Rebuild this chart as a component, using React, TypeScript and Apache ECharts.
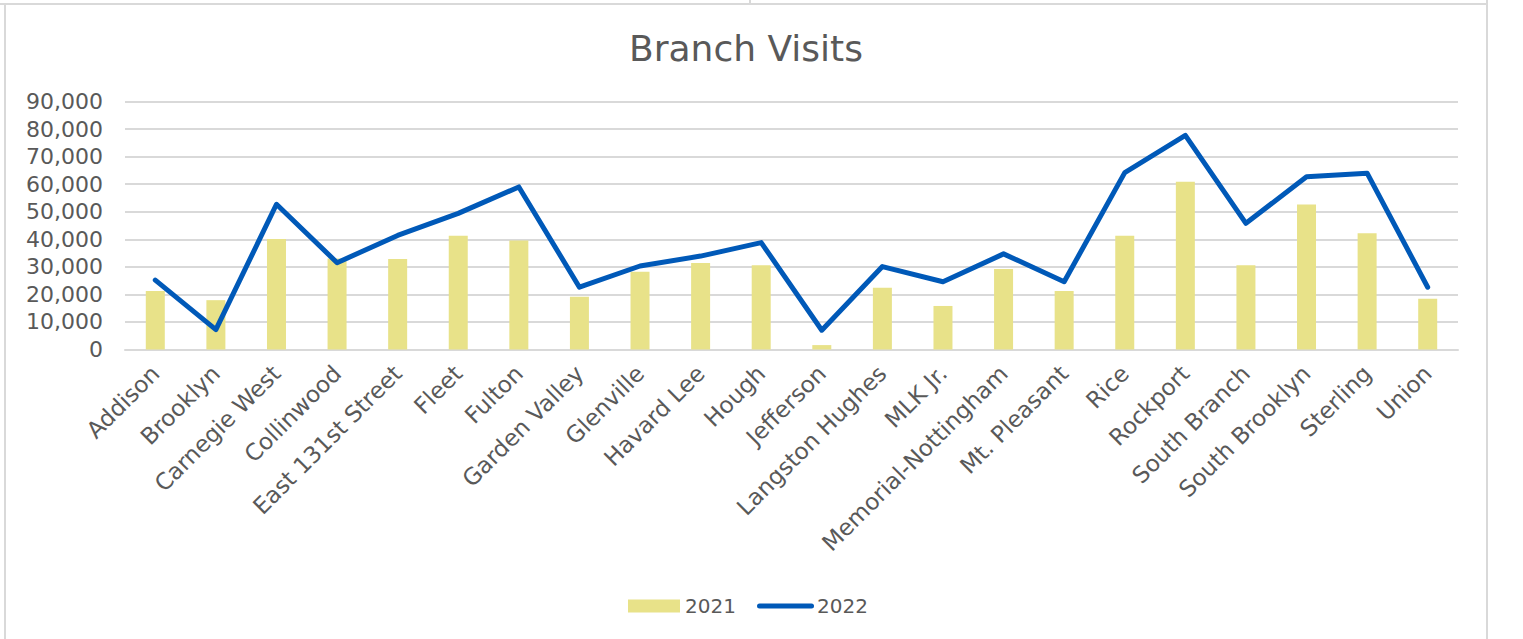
import React, { useEffect, useRef } from "react";
import * as echarts from "echarts";

const categories = [
  "Addison", "Brooklyn", "Carnegie West", "Collinwood", "East 131st Street", "Fleet",
  "Fulton", "Garden Valley", "Glenville", "Havard Lee", "Hough", "Jefferson",
  "Langston Hughes", "MLK Jr.", "Memorial-Nottingham", "Mt. Pleasant", "Rice",
  "Rockport", "South Branch", "South Brooklyn", "Sterling", "Union",
];

const visits2021 = [
  21200, 17900, 40100, 33000, 32800, 41300, 39600, 19100, 28200, 31400, 30600,
  1600, 22400, 15800, 29200, 21200, 41300, 60900, 30600, 52600, 42200, 18400,
];

const visits2022 = [
  25200, 7200, 52700, 31500, 41400, 49400, 59000, 22600, 30300, 33900, 38800,
  7000, 30100, 24600, 34700, 24600, 64200, 77700, 45800, 62700, 64000, 22600,
];

const seriesNames = ["2021", "2022"];
const yMax = 90000;
const yInterval = 10000;

const FONT = "DejaVu Sans";
const TEXT = "#595959";
const GRID = "#d9d9d9";
const BAR = "#e8e289";
const LINE = "#0059b8";

export default function App() {
  const ref = useRef<HTMLDivElement>(null);

  useEffect(() => {
    if (!ref.current) return;
    const chart = echarts.init(ref.current, null, { renderer: "svg" });
    chart.setOption({
      animation: false,
      backgroundColor: "#ffffff",
      title: {
        text: "Branch Visits",
        left: 624,
        top: 25,
        textStyle: { fontFamily: FONT, fontSize: 36, fontWeight: "normal", color: TEXT },
      },
      legend: [
        {
          left: 628,
          top: 596,
          padding: 0,
          itemWidth: 52,
          itemHeight: 13,
          icon: "rect",
          textStyle: { fontFamily: FONT, fontSize: 20, color: TEXT },
          data: [seriesNames[0]],
        },
        {
          left: 757,
          top: 596,
          padding: 0,
          itemWidth: 57,
          itemHeight: 5,
          icon: "path://M2.5,0 L54.5,0 A2.5,2.5 0 0 1 54.5,5 L2.5,5 A2.5,2.5 0 0 1 2.5,0 Z",
          textStyle: { fontFamily: FONT, fontSize: 20, color: TEXT, padding: [0, 0, 0, -2] },
          data: [seriesNames[1]],
        },
      ],
      grid: { left: 125, right: 65, top: 101.5, bottom: 289.5, containLabel: false },
      xAxis: {
        type: "category",
        data: categories,
        axisLine: { lineStyle: { color: GRID, width: 2 } },
        axisTick: { show: false },
        axisLabel: {
          rotate: 45,
          interval: 0,
          margin: 20,
          fontFamily: FONT,
          fontSize: 23,
          color: TEXT,
        },
      },
      yAxis: {
        type: "value",
        min: 0,
        max: yMax,
        interval: yInterval,
        axisLine: { show: false },
        axisTick: { show: false },
        splitLine: { lineStyle: { color: GRID, width: 2 } },
        axisLabel: {
          margin: 22,
          fontFamily: FONT,
          fontSize: 22,
          color: TEXT,
          formatter: (v: number) => v.toLocaleString("en-US"),
        },
      },
      series: [
        {
          name: seriesNames[0],
          type: "bar",
          data: visits2021,
          barWidth: 19,
          itemStyle: { color: BAR },
        },
        {
          name: seriesNames[1],
          type: "line",
          data: visits2022,
          symbol: "none",
          lineStyle: { color: LINE, width: 5, cap: "round", join: "round" },
          itemStyle: { color: LINE },
        },
      ],
      graphic: [
        { type: "line", shape: { x1: 0, y1: 4, x2: 1488, y2: 4 }, style: { stroke: GRID, lineWidth: 2 } },
        { type: "line", shape: { x1: 750, y1: 0, x2: 750, y2: 4 }, style: { stroke: GRID, lineWidth: 2 } },
        { type: "line", shape: { x1: 5, y1: 4, x2: 5, y2: 639 }, style: { stroke: GRID, lineWidth: 2 } },
        { type: "line", shape: { x1: 1487, y1: 0, x2: 1487, y2: 639 }, style: { stroke: GRID, lineWidth: 2 } },
      ],
    });
    return () => chart.dispose();
  }, []);

  return (
    <div
      ref={ref}
      style={{ position: "fixed", left: 0, top: 0, width: 1523, height: 639 }}
    />
  );
}
